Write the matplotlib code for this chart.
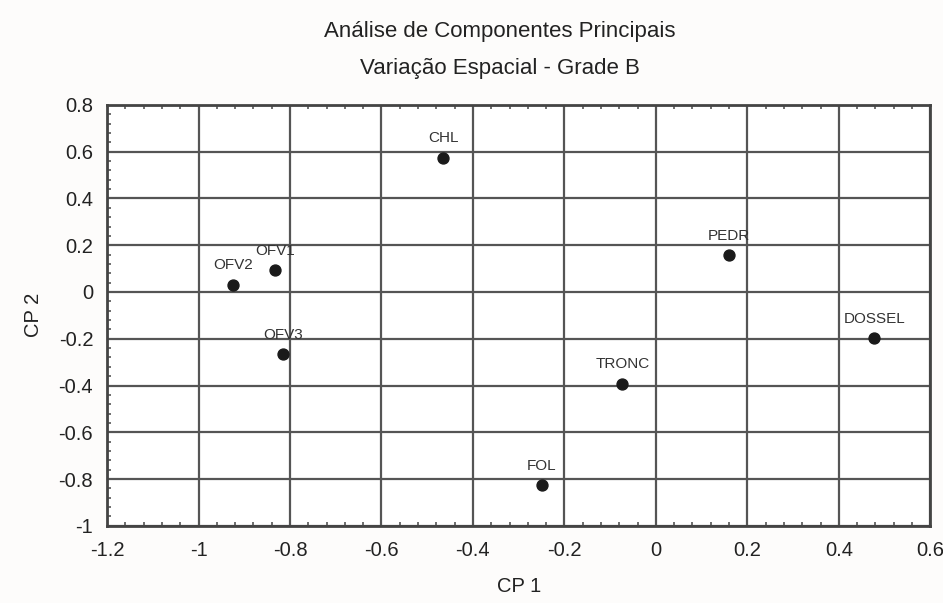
import matplotlib.pyplot as plt
from matplotlib.ticker import MultipleLocator, FuncFormatter

# --------------------------
# Dados (cargas CP1 x CP2)
# --------------------------
variaveis = ["CHL", "OFV2", "OFV1", "OFV3", "TRONC", "FOL", "PEDR", "DOSSEL"]
cp1 = [-0.465, -0.925, -0.833, -0.816, -0.073, -0.25, 0.16, 0.478]
cp2 = [0.575, 0.03, 0.093, -0.267, -0.392, -0.827, 0.158, -0.198]

plt.rcParams['font.family'] = ['Liberation Sans', 'DejaVu Sans']

fig = plt.figure(figsize=(9.43, 6.03), dpi=100, facecolor='#fdfcfb')
ax = fig.add_axes([0.1135, 0.128, 0.873, 0.698])
ax.set_facecolor('white')

ax.scatter(cp1, cp2, s=62, color='#1a1a1a', zorder=3)
for nome, x, y in zip(variaveis, cp1, cp2):
    ax.annotate(nome, (x, y), xytext=(0, 9), textcoords='offset points',
                ha='center', va='bottom', fontsize=11, color='#333333')

ax.set_xlim(-1.2, 0.6)
ax.set_ylim(-1, 0.8)
ax.xaxis.set_major_locator(MultipleLocator(0.2))
ax.yaxis.set_major_locator(MultipleLocator(0.2))
ax.xaxis.set_minor_locator(MultipleLocator(0.04))
ax.yaxis.set_minor_locator(MultipleLocator(0.04))

fmt = FuncFormatter(lambda v, p: '0' if abs(v) < 1e-9 else '%g' % round(v, 1))
ax.xaxis.set_major_formatter(fmt)
ax.yaxis.set_major_formatter(fmt)

ax.grid(True, which='major', color='#555555', linewidth=1.6)
ax.tick_params(axis='x', which='major', length=0, labelsize=14.5, pad=11,
               colors='#222222')
ax.tick_params(axis='y', which='major', length=0, labelsize=14.5, pad=10,
               colors='#222222')
ax.tick_params(which='minor', direction='in', length=3, width=1.2,
               top=True, bottom=True, left=True, right=False, color='#555555')
for s in ax.spines.values():
    s.set_color('#444444')
    s.set_linewidth(2)

ax.set_xlabel("CP 1", fontsize=14.5, labelpad=12, color='#222222')
ax.set_ylabel("CP 2", fontsize=14.5, labelpad=11, color='#222222')

fig.text(0.53, 0.948, "Análise de Componentes Principais", ha='center',
         va='center', fontsize=16, color='#222222')
fig.text(0.53, 0.886, "Variação Espacial - Grade B", ha='center',
         va='center', fontsize=16, color='#222222')

fig.savefig("out.png", dpi=100, facecolor=fig.get_facecolor())
